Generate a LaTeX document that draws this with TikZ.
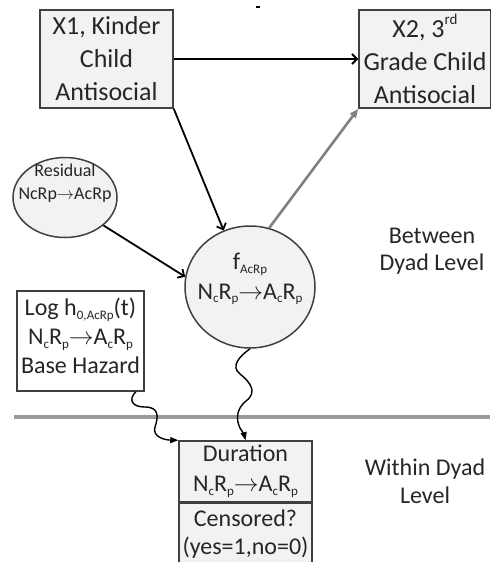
\documentclass[tikz,border=0pt]{standalone}
\usepackage{fontspec}
\setmainfont{Carlito}
\usetikzlibrary{arrows.meta, positioning, shapes.geometric}

\definecolor{boxfill}{HTML}{F2F2F2}
\definecolor{boxline}{HTML}{404040}
\definecolor{inktext}{HTML}{262626}
\definecolor{midgray}{HTML}{808080}
\definecolor{rulegray}{HTML}{9A9A9A}

\newcommand{\boxfont}{\fontsize{26}{33}\selectfont}
\newcommand{\labfont}{\fontsize{24}{29}\selectfont}
\newcommand{\resfont}{\fontsize{18}{23}\selectfont}
\newcommand{\lowsub}[1]{\raisebox{-0.15em}{\fontsize{13}{13}\selectfont #1}}
\newcommand{\highsup}[1]{\raisebox{0.5em}{\fontsize{15}{15}\selectfont #1}}
\newcommand{\ncrp}{N\lowsub{c}R\lowsub{p}$\rightarrow$A\lowsub{c}R\lowsub{p}}

\begin{document}
\begin{tikzpicture}[x=1pt, y=-1pt, line width=1.5pt,
    varbox/.style={draw=boxline, fill=boxfill, rectangle, inner sep=0pt, align=center, text=inktext},
    latent/.style={draw=boxline, fill=boxfill, ellipse, inner sep=0pt},
    txt/.style={align=center, text=inktext, inner sep=0pt},
    link/.style={draw=black, line width=1.8pt, -{Straight Barb[length=5pt, width=10pt]}},
    graylink/.style={draw=midgray, line width=2.6pt, -{Triangle[length=9pt, width=7pt]}},
    wavy/.style={draw=black, line width=1.4pt, -{Triangle[length=8pt, width=6pt]}}]
    \useasboundingbox (0,0) rectangle (490,562);

    % small mark at the top
    \draw[color=black, line width=2pt] (256,7) -- (260,7);

    % draw level divider
    \draw[color=rulegray, line width=3.5pt] (14,417) -- (490,417);

    % draw observed boxes
    \node[varbox, minimum width=133pt, minimum height=98pt, font=\boxfont] (x1) at (106.5,59) {X1, Kinder\\Child\\Antisocial};
    \node[varbox, minimum width=132pt, minimum height=98pt, font=\boxfont] (x2) at (425,59) {X2, 3\highsup{rd}\\Grade Child\\Antisocial};

    % draw latent ellipses
    \node[latent, minimum width=104pt, minimum height=80pt] (res) at (65,197.5) {};
    \node[txt, font=\resfont] (restext) at (65,183) {Residual\\NcRp$\rightarrow$AcRp};
    \node[latent, minimum width=130pt, minimum height=122pt] (f) at (250,287) {};
    \node[txt, font=\fontsize{24}{29.5}\selectfont] (ftext) at (250,279) {f\lowsub{AcRp}\\\ncrp};

    % draw base hazard box
    \node[varbox, fill=white, minimum width=127pt, minimum height=100pt] (log) at (80.5,341) {};
    \node[txt, font=\labfont] (logtext) at (80.5,336) {Log h\lowsub{0,AcRp}(t)\\\ncrp\\Base Hazard};

    % draw duration boxes
    \node[varbox, minimum width=133pt, minimum height=61pt, font=\fontsize{24}{30}\selectfont] (dur) at (245.5,471.5) {Duration\\\ncrp};
    \node[varbox, minimum width=133pt, minimum height=61pt, font=\fontsize{24}{28.5}\selectfont, below=0pt of dur] (cens) {Censored?\\(yes=1,no=0)};

    % draw level labels
    \node[txt, font=\fontsize{24}{27}\selectfont] (between) at (432,251.5) {Between\\Dyad Level};
    \node[txt, font=\fontsize{24}{28}\selectfont] (within) at (425,481) {Within Dyad\\Level};

    % draw paths
    \draw[link] (x1) -- (x2);
    \draw[link] (x1.south east) -- (f.115);
    \draw[link] (res.324) -- (f.171);
    \draw[graylink] (f.72) -- (x2.south west);

    % draw wavy links
    \draw[wavy] ([xshift=-9pt]log.south east) .. controls (128,400) and (132,407) .. (145,407) .. controls (160,407) and (158,418) .. (155,427) .. controls (152,437) and (165,440) .. (dur.north west);
    \draw[wavy] (f.south) .. controls (240,356) and (230,366) .. (240,374) .. controls (250,382) and (258,392) .. (246,401) .. controls (236,409) and (236,420) .. (240,428) .. controls (244,434) .. (dur.north);
\end{tikzpicture}
\end{document}
